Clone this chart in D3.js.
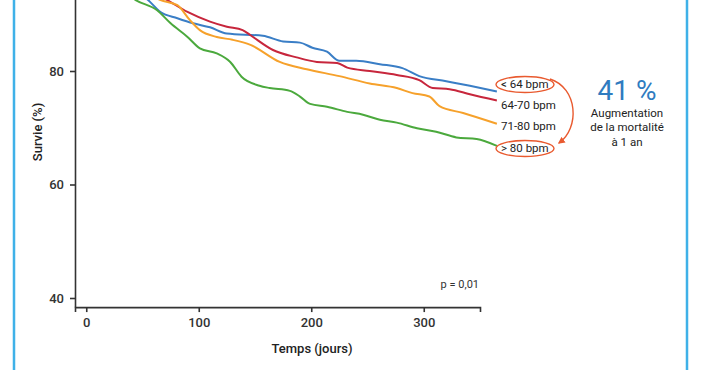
<!DOCTYPE html>
<html>
<head>
<meta charset="utf-8">
<script src="https://cdn.jsdelivr.net/npm/d3@7"></script>
<style>
  body { margin: 0; background: #fff; }
  text { font-family: Roboto, "DejaVu Sans", sans-serif; }
</style>
</head>
<body>
<div id="my_dataviz"></div>
<script>
// groups of resting heart rate
var groups = ["< 64 bpm", "64-70 bpm", "71-80 bpm", "> 80 bpm"];
var colors = ["#3a7ec6", "#c7263c", "#f6a12b", "#4ba93d"];

// survival (%), [day, value]
var blueCurve = [[0,100],[25,96.5],[55,92.5],[66,90.4],[81,89.3],[95,88.4],[110,87.7],[125,86.6],[157,86.2],[175,85.2],[190,85.0],[201,84.1],[214,83.4],[225,81.8],[240,81.8],[261,81.2],[281,80.5],[296,79.1],[320,78.2],[341,77.4],[365,76.4]];
var redCurve = [[0,100],[35,96.5],[72,92.5],[90,90.4],[110,88.7],[125,87.8],[139,87.2],[146,86.3],[166,83.7],[187,82.4],[205,81.6],[223,81.4],[232,80.6],[252,80.0],[276,79.3],[296,78.4],[308,77.0],[323,76.8],[341,75.9],[365,74.8]];
var orangeCurve = [[0,100],[33,96.5],[66,92.5],[81,91.6],[92,89.0],[101,87.2],[116,86.0],[130,85.5],[146,84.6],[172,81.6],[196,80.3],[225,79.1],[252,77.8],[276,77.0],[290,76.1],[305,75.5],[314,73.8],[335,72.6],[365,70.7]];
var greenCurve = [[0,100],[20,96.5],[44,92.5],[63,90.7],[75,88.4],[90,86.0],[101,84.0],[116,83.1],[128,81.6],[138,79.0],[154,77.4],[163,77.0],[181,76.5],[190,75.5],[199,74.2],[214,73.7],[232,72.8],[246,72.3],[261,71.4],[276,70.9],[294,69.9],[311,69.3],[329,68.3],[347,68.0],[365,66.8]];
var curves = [blueCurve, redCurve, orangeCurve, greenCurve];

var xTicks = [0, 100, 200, 300];
var yTicks = [40, 60, 80];
var headline = "41 %";
var headlineLines = ["Augmentation", "de la mortalité", "à 1 an"];
var pValue = "p = 0,01";

var W = 702, H = 370;

var svg = d3.select("#my_dataviz")
  .append("svg")
    .attr("width", W)
    .attr("height", H);

// light blue frame (left / right sides)
svg.append("line").attr("x1", 14).attr("x2", 14).attr("y1", 0).attr("y2", H)
  .attr("stroke", "#3fb1e8").attr("stroke-width", 2.5);
svg.append("line").attr("x1", 687).attr("x2", 687).attr("y1", 0).attr("y2", H)
  .attr("stroke", "#3fb1e8").attr("stroke-width", 2.5);

var x = d3.scaleLinear()
  .domain([-10, 350])
  .range([75, 480]);

var y = d3.scaleLinear()
  .domain([40, 80])
  .range([298, 71]);

var yBottom = y(38.4);

// lines first, axes on top
var line = d3.line()
  .x(function(d) { return x(d[0]); })
  .y(function(d) { return y(d[1]); })
  .curve(d3.curveMonotoneX);

svg.append("g")
  .selectAll("path")
  .data(curves)
  .enter()
  .append("path")
    .attr("d", line)
    .attr("fill", "none")
    .attr("stroke", function(d, i) { return colors[i]; })
    .attr("stroke-width", 2);

// X axis
var gx = svg.append("g")
  .attr("transform", "translate(0," + yBottom + ")")
  .call(d3.axisBottom(x).tickValues(xTicks).tickSize(5).tickSizeOuter(5).tickPadding(6));

// Y axis (runs past the top edge, like the cropped original)
var yAxisScale = d3.scaleLinear().domain([38.4, 100]).range([yBottom, y(100)]);
var gy = svg.append("g")
  .attr("transform", "translate(75,0)")
  .call(d3.axisLeft(yAxisScale).tickValues(yTicks).tickSize(5).tickSizeOuter(0).tickPadding(6));

[gx, gy].forEach(function(g) {
  g.selectAll("path, line").attr("stroke", "#333").attr("stroke-width", 1.6);
  g.selectAll("text").attr("fill", "#333").style("font-size", "13px").style("font-weight", 500);
});

svg.append("text")
  .attr("x", 312)
  .attr("y", 353)
  .attr("text-anchor", "middle")
  .style("font-size", "13px")
  .style("font-weight", 500)
  .attr("fill", "#222")
  .text("Temps (jours)");

svg.append("text")
  .attr("transform", "translate(42,132) rotate(-90)")
  .attr("text-anchor", "middle")
  .style("font-size", "13px")
  .style("font-weight", 500)
  .attr("fill", "#222")
  .text("Survie (%)");

svg.append("text")
  .attr("x", 479)
  .attr("y", 288)
  .attr("text-anchor", "end")
  .style("font-size", "11px")
  .attr("fill", "#333")
  .text(pValue);

// group labels next to the curve ends
var labelY = [88, 109, 130, 152];
svg.append("g")
  .selectAll("text")
  .data(groups)
  .enter()
  .append("text")
    .attr("x", 501)
    .attr("y", function(d, i) { return labelY[i]; })
    .style("font-size", "11.5px")
    .attr("fill", "#222")
    .text(function(d) { return d; });

var accent = "#e95a2f";
svg.append("ellipse").attr("cx", 525).attr("cy", 84.5).attr("rx", 29).attr("ry", 8)
  .attr("fill", "none").attr("stroke", accent).attr("stroke-width", 1.4);
svg.append("ellipse").attr("cx", 525).attr("cy", 148.5).attr("rx", 29).attr("ry", 8)
  .attr("fill", "none").attr("stroke", accent).attr("stroke-width", 1.4);

svg.append("defs").append("marker")
  .attr("id", "arrow")
  .attr("viewBox", "0 0 10 10")
  .attr("refX", 8).attr("refY", 5)
  .attr("markerWidth", 5).attr("markerHeight", 5)
  .attr("orient", "auto")
  .append("path").attr("d", "M0,0L10,5L0,10z").attr("fill", accent);

svg.append("path")
  .attr("d", "M550,79 C578,88 580,128 559,143")
  .attr("fill", "none")
  .attr("stroke", accent)
  .attr("stroke-width", 1.4)
  .attr("marker-end", "url(#arrow)");

svg.append("text")
  .attr("x", 627)
  .attr("y", 100)
  .attr("text-anchor", "middle")
  .style("font-size", "28px")
  .attr("fill", "#2f7bc0")
  .text(headline);

svg.append("g")
  .selectAll("text")
  .data(headlineLines)
  .enter()
  .append("text")
    .attr("x", 627)
    .attr("y", function(d, i) { return 116.5 + i * 14.5; })
    .attr("text-anchor", "middle")
    .style("font-size", "11.5px")
    .attr("fill", "#222")
    .text(function(d) { return d; });
</script>
</body>
</html>
